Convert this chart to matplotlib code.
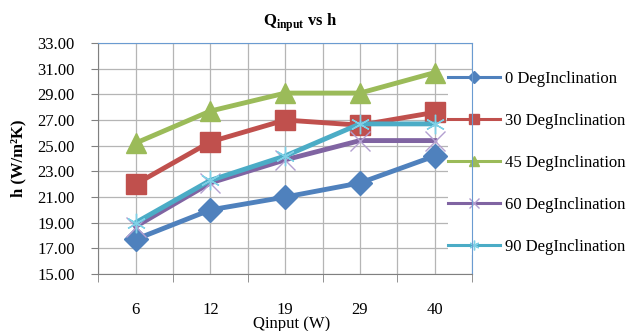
import numpy as np
import matplotlib
matplotlib.use('Agg')
import matplotlib.pyplot as plt
from matplotlib.ticker import FixedLocator, NullFormatter

plt.rcParams['font.family'] = ['Liberation Serif', 'DejaVu Serif']
plt.rcParams['mathtext.fontset'] = 'custom'
plt.rcParams['mathtext.rm'] = 'Liberation Serif'
plt.rcParams['mathtext.bf'] = 'Liberation Serif:bold'

# data
q_input = ['6', '12', '19', '29', '40']
deg_0 = [17.7, 20.0, 21.0, 22.1, 24.2]
deg_30 = [22.0, 25.3, 27.0, 26.6, 27.6]
deg_45 = [25.2, 27.7, 29.1, 29.1, 30.7]
deg_60 = [18.7, 22.1, 23.9, 25.4, 25.4]
deg_90 = [19.0, 22.3, 24.2, 26.7, 26.7]
labels = ['0 DegInclination', '30 DegInclination', '45 DegInclination',
          '60 DegInclination', '90 DegInclination']

fig = plt.figure(figsize=(6.33, 3.31), dpi=100)
ax = fig.add_axes([0.155, 0.172, 0.591, 0.698])

x = np.arange(len(q_input))
ax.plot(x, deg_0, color='#4F81BD', lw=3.5, marker='D', ms=12, label=labels[0])
ax.plot(x, deg_30, color='#C0504D', lw=3.5, marker='s', ms=14, label=labels[1])
ax.plot(x, deg_45, color='#9BBB59', lw=3.5, marker='^', ms=15, label=labels[2])
ax.plot(x, deg_60, color='#8064A2', lw=3.5, marker='x', ms=14, mew=1,
        mec='#B39FD0', label=labels[3])
ax.plot(x, deg_90, color='#4BACC6', lw=3.5, marker=(6, 2, 0), ms=14, mew=1,
        mec='#7FD0E6', label=labels[4])

ax.set_xlim(-0.5, len(q_input) - 0.5)
ax.set_ylim(15, 33)
ax.set_yticks(np.arange(15, 34, 2))
ax.set_yticklabels(['%.2f' % v for v in np.arange(15, 34, 2)])
ax.set_xticks(x)
ax.set_xticklabels(q_input)
ax.xaxis.set_minor_locator(FixedLocator(np.arange(-0.5, len(q_input), 1.0)))
ax.xaxis.set_minor_formatter(NullFormatter())

ax.tick_params(axis='x', which='major', length=0, pad=20, labelsize=12)
ax.tick_params(axis='x', which='minor', length=6, color='#808080', direction='out')
ax.tick_params(axis='y', length=5, color='#808080', pad=12, labelsize=12)

ax.grid(True, which='major', color='#B5B5B5', lw=0.9)
ax.grid(True, which='minor', axis='x', color='#B5B5B5', lw=0.9)
ax.set_axisbelow(True)

for s in ['left', 'bottom']:
    ax.spines[s].set_color('#808080')
for s in ['top', 'right']:
    ax.spines[s].set_color('#6A9BD1')

ax.set_title(r'$\mathbf{Q}_{\mathbf{input}}$ vs h', fontsize=12,
             fontweight='bold', pad=12, x=0.54)
ax.set_ylabel('h (W/m²K)', fontsize=12, fontweight='bold', labelpad=8)
fig.text(0.461, 1 - 324 / 331, 'Qinput (W)', ha='center', va='center', fontsize=12)

leg = ax.legend(loc='upper left', bbox_to_anchor=(448 / 633, 1 - 71 / 331),
                bbox_transform=fig.transFigure, frameon=True, fancybox=False,
                edgecolor='none', facecolor='white', framealpha=1,
                borderpad=0, borderaxespad=0, handlelength=3.1,
                handletextpad=0.3, labelspacing=1.56, markerscale=0.5,
                fontsize=12)
leg.set_zorder(2.4)
for h in leg.legend_handles:
    h.set_linewidth(2.2)

plt.savefig('out.png', dpi=100)
